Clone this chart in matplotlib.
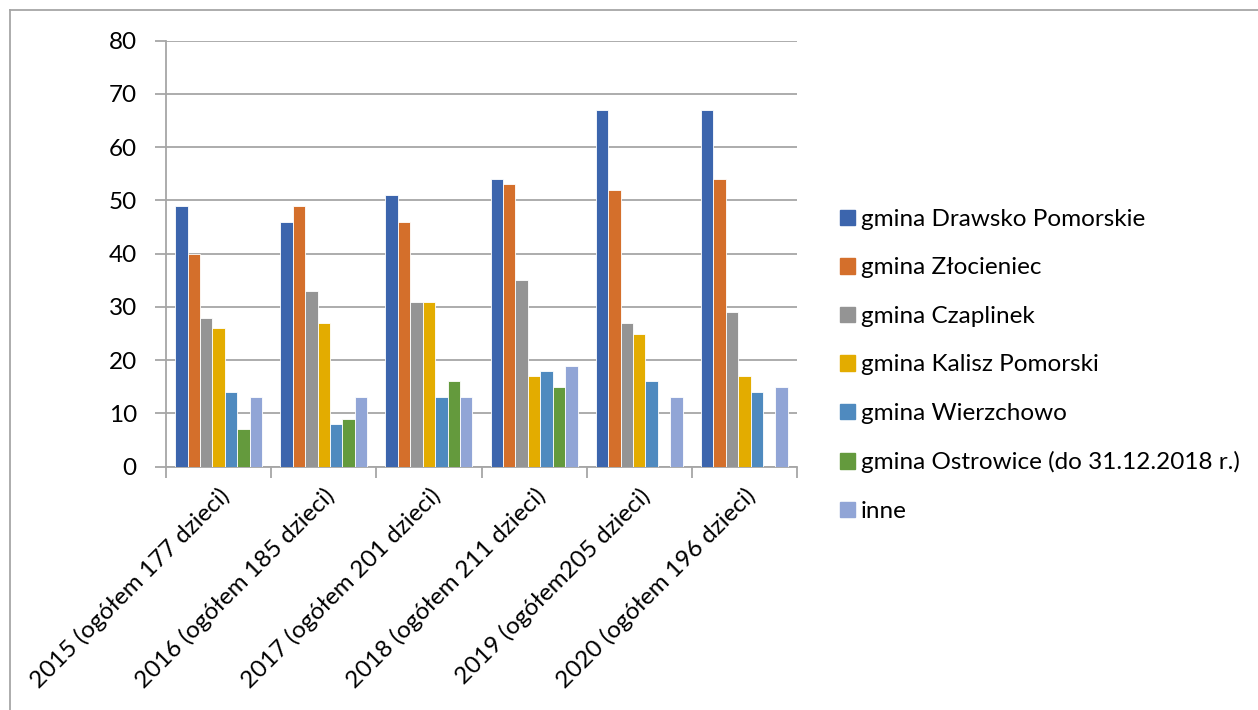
import matplotlib
matplotlib.use("Agg")
import matplotlib.pyplot as plt
import numpy as np
from matplotlib.lines import Line2D

categories = ["2015 (ogółem 177 dzieci)", "2016 (ogółem 185 dzieci)",
              "2017 (ogółem 201 dzieci)", "2018 (ogółem 211 dzieci)",
              "2019 (ogółem205 dzieci)", "2020 (ogółem 196 dzieci)"]
series_names = ["gmina Drawsko Pomorskie", "gmina Złocieniec", "gmina Czaplinek",
                "gmina Kalisz Pomorski", "gmina Wierzchowo",
                "gmina Ostrowice (do 31.12.2018 r.)", "inne"]
drawsko = [49, 46, 51, 54, 67, 67]
zlocieniec = [40, 49, 46, 53, 52, 54]
czaplinek = [28, 33, 31, 35, 27, 29]
kalisz = [26, 27, 31, 17, 25, 17]
wierzchowo = [14, 8, 13, 18, 16, 14]
ostrowice = [7, 9, 16, 15, 0, 0]
inne = [13, 13, 13, 19, 13, 15]
values = [drawsko, zlocieniec, czaplinek, kalisz, wierzchowo, ostrowice, inne]
colors = ["#3C65AD", "#D46F2B", "#949494", "#E3AC00", "#4F8ABF", "#649A3D", "#91A5D6"]
yticks = [0, 10, 20, 30, 40, 50, 60, 70, 80]

plt.rcParams['font.family'] = ['Lato', 'DejaVu Sans']
FS = 17.5

W, H = 1258, 710
fig = plt.figure(figsize=(W / 100, H / 100), dpi=100)
ax = fig.add_axes([166 / W, 1 - 466.7 / H, (797 - 166) / W, (466.7 - 40.7) / H])

n = len(values)
bw = 0.118
x = np.arange(len(categories))
for i, (vals, c) in enumerate(zip(values, colors)):
    off = (i - (n - 1) / 2) * bw
    ax.bar(x + off, vals, width=bw, color=c, edgecolor="white", linewidth=0.6,
           label=series_names[i], zorder=3)

ax.set_xlim(-0.5, len(categories) - 0.5)
ax.set_ylim(0, 80)
ax.set_yticks(yticks)
ax.set_yticklabels([str(v) for v in yticks], fontsize=FS)
ax.yaxis.grid(True, color="#A6A6A6", linewidth=1.3, zorder=0)
ax.set_axisbelow(True)

for s in ["top", "right"]:
    ax.spines[s].set_visible(False)
for s in ["left", "bottom"]:
    ax.spines[s].set_color("#A6A6A6")
    ax.spines[s].set_linewidth(1.3)

ax.tick_params(axis="y", length=8, width=1.3, color="#A6A6A6", pad=13, labelcolor="black")
# category boundary ticks on x axis
ax.set_xticks(np.arange(len(categories) + 1) - 0.5)
ax.set_xticklabels([])
ax.tick_params(axis="x", which="major", length=8, width=1.3, color="#A6A6A6")
ax.set_xticks(x, minor=True)
ax.set_xticklabels(categories, minor=True, rotation=45, ha="right",
                   rotation_mode="anchor", fontsize=FS)
ax.tick_params(axis="x", which="minor", length=0, pad=13)

handles = [plt.Rectangle((0, 0), 1, 1, color=c) for c in colors]
leg = fig.legend(handles, series_names, loc="upper left",
                 bbox_to_anchor=(840 / W, 1 - 209 / H), frameon=False,
                 borderpad=0, borderaxespad=0,
                 fontsize=FS, handlelength=0.6, handleheight=0.6,
                 handletextpad=0.25, labelspacing=1.13)

# outer chart border (top and left)
fig.add_artist(Line2D([10 / W, 1], [1 - 10 / H, 1 - 10 / H], color="#A6A6A6",
                      linewidth=1.3, transform=fig.transFigure))
fig.add_artist(Line2D([10 / W, 10 / W], [0, 1 - 10 / H], color="#A6A6A6",
                      linewidth=1.3, transform=fig.transFigure))

fig.savefig("out.png", dpi=100)
